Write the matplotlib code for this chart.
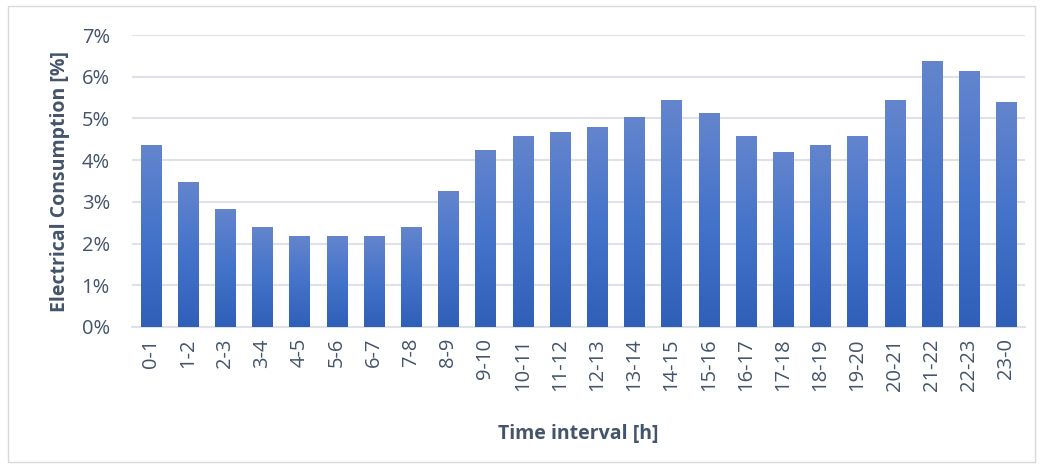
import numpy as np
import matplotlib
matplotlib.use("Agg")
import matplotlib.pyplot as plt
from matplotlib.patches import Rectangle
from matplotlib.colors import LinearSegmentedColormap
from matplotlib.ticker import FuncFormatter

# time intervals and share of daily consumption [%]
intervals = ["0-1", "1-2", "2-3", "3-4", "4-5", "5-6", "6-7", "7-8", "8-9", "9-10",
             "10-11", "11-12", "12-13", "13-14", "14-15", "15-16", "16-17", "17-18",
             "18-19", "19-20", "20-21", "21-22", "22-23", "23-0"]
consumption = [4.36, 3.48, 2.83, 2.40, 2.18, 2.18, 2.18, 2.40, 3.26, 4.24,
               4.58, 4.68, 4.80, 5.04, 5.44, 5.13, 4.58, 4.20,
               4.36, 4.58, 5.44, 6.38, 6.14, 5.40]
y_ticks = [0, 1, 2, 3, 4, 5, 6, 7]

text_col = "#44546A"
plt.rcParams['font.family'] = ['Open Sans', 'DejaVu Sans']

fig = plt.figure(figsize=(10.43, 4.65), dpi=100)
ax = fig.add_axes([0.1266, 0.2968, 0.8561, 0.6279])

# outer frame
fig.patches.append(Rectangle((0.008, 0.006), 0.984, 0.981, transform=fig.transFigure,
                             fill=False, edgecolor="#D9D9D9", linewidth=1.0))

x = np.arange(len(intervals))
bars = ax.bar(x, consumption, width=0.54, color="#4472C4", zorder=2)

# vertical gradient inside each bar: lighter at top, darker at bottom
cmap = LinearSegmentedColormap.from_list("grad", ["#2F5FB7", "#4473CA", "#6485CD"])
grad = np.linspace(0, 1, 256).reshape(-1, 1)
for b in bars:
    x0, w, h = b.get_x(), b.get_width(), b.get_height()
    im = ax.imshow(grad, cmap=cmap, origin="lower", aspect="auto",
                   extent=(x0, x0 + w, 0, h), zorder=3, vmin=0, vmax=1)
    im.set_clip_path(b)

ax.set_xlim(-0.5, len(intervals) - 0.5)
ax.set_ylim(0, 7)
ax.set_yticks(y_ticks)
ax.yaxis.set_major_formatter(FuncFormatter(lambda v, p: f"{v:.0f}%"))
ax.set_xticks(x)
ax.set_xticklabels(intervals, rotation=90)

ax.grid(axis="y", color="#DEE2E8", linewidth=1.5, zorder=0)
ax.set_axisbelow(True)
for s in ["top", "right", "left"]:
    ax.spines[s].set_visible(False)
ax.spines["bottom"].set_color("#DEE2E8")
ax.spines["bottom"].set_linewidth(1.5)
ax.tick_params(axis="both", length=0, labelsize=14.5, labelcolor=text_col)
ax.tick_params(axis="y", pad=16)
ax.tick_params(axis="x", pad=8)

ax.set_ylabel("Electrical Consumption [%]", fontsize=14, fontweight="bold",
              color=text_col, labelpad=8)
ax.set_xlabel("Time interval [h]", fontsize=14, fontweight="bold",
              color=text_col, labelpad=24)

fig.savefig("out.png", dpi=100)
